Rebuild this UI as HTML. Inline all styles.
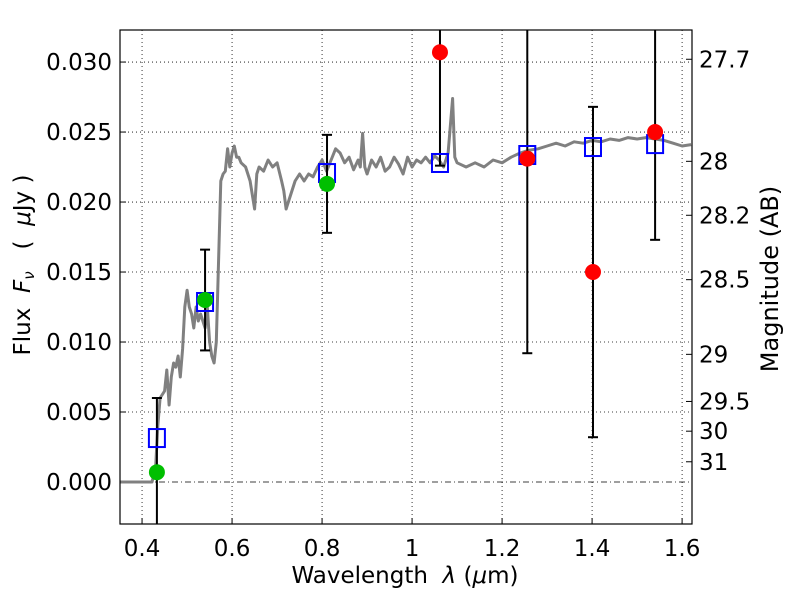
<!DOCTYPE html>
<html><head><meta charset="utf-8"><style>
body{margin:0;background:#fff;}
svg text{font-family:"DejaVu Sans","Liberation Sans",sans-serif;}
</style></head><body>
<svg id="chart" width="800" height="600" xmlns="http://www.w3.org/2000/svg"></svg>
<script>
const specLam=[0.351,0.422,0.43,0.435,0.44,0.45,0.455,0.46,0.465,0.47,0.475,0.48,0.485,0.49,0.495,0.50,0.505,0.51,0.515,0.52,0.525,0.53,0.54,0.545,0.55,0.555,0.56,0.565,0.575,0.58,0.585,0.59,0.595,0.60,0.605,0.61,0.615,0.62,0.63,0.64,0.65,0.655,0.66,0.67,0.68,0.69,0.70,0.71,0.715,0.72,0.73,0.74,0.75,0.76,0.77,0.78,0.79,0.80,0.81,0.82,0.83,0.84,0.85,0.86,0.87,0.88,0.885,0.89,0.895,0.90,0.91,0.92,0.93,0.94,0.95,0.96,0.97,0.98,0.99,1.00,1.01,1.02,1.03,1.04,1.05,1.06,1.07,1.08,1.09,1.095,1.10,1.12,1.14,1.16,1.18,1.20,1.22,1.24,1.26,1.28,1.30,1.32,1.34,1.36,1.38,1.40,1.42,1.44,1.46,1.48,1.50,1.52,1.54,1.56,1.58,1.60,1.62];
const specFlux=[0,0,0.001,0.004,0.006,0.0065,0.008,0.0055,0.0075,0.0085,0.0082,0.009,0.0075,0.0095,0.0125,0.0137,0.0125,0.012,0.011,0.0125,0.0115,0.012,0.011,0.0125,0.010,0.009,0.0085,0.010,0.0215,0.022,0.0222,0.0238,0.0225,0.0235,0.024,0.0232,0.0232,0.0228,0.0225,0.0215,0.0195,0.022,0.0225,0.0222,0.023,0.0225,0.0228,0.0215,0.0208,0.0195,0.0205,0.0215,0.022,0.0215,0.022,0.0218,0.0225,0.023,0.0222,0.023,0.0238,0.0235,0.0228,0.0232,0.0223,0.023,0.0225,0.0249,0.0225,0.022,0.023,0.0225,0.0232,0.0222,0.0225,0.0232,0.0227,0.022,0.0232,0.0225,0.023,0.0228,0.0232,0.0228,0.0233,0.023,0.0225,0.0235,0.0274,0.0232,0.0228,0.0225,0.0228,0.0225,0.023,0.0228,0.0232,0.0235,0.0237,0.0238,0.024,0.0242,0.024,0.0243,0.0242,0.0244,0.0243,0.0245,0.0244,0.0246,0.0245,0.0246,0.0245,0.0244,0.0242,0.024,0.0241];
const modelLam=[0.433,0.54,0.811,1.062,1.256,1.402,1.54];
const modelFlux=[0.00314,0.01286,0.02207,0.02279,0.02336,0.02393,0.02414];
const detLam=[0.433,0.54,0.811];
const detFlux=[0.0007,0.0130,0.0213];
const detErr=[0.0053,0.0036,0.0035];
const ndLam=[1.062,1.256,1.402,1.54];
const ndFlux=[0.0307,0.0231,0.0150,0.0250];
const ndErr=[0.0081,0.0139,0.0118,0.0077];
const xTicks=[0.4,0.6,0.8,1.0,1.2,1.4,1.6];
const xTickLabels=["0.4","0.6","0.8","1","1.2","1.4","1.6"];
const yTicks=[0,0.005,0.01,0.015,0.02,0.025,0.03];
const yTickLabels=["0.000","0.005","0.010","0.015","0.020","0.025","0.030"];
const magTicks=[27.7,28,28.2,28.5,29,29.5,30,31];
const magLabels=["27.7","28","28.2","28.5","29","29.5","30","31"];

const L=120,R=692,T=30,B=524;
const X0=0.351,X1=1.622,Y0=-0.003,Y1=0.03229;
const sx=v=>L+(v-X0)/(X1-X0)*(R-L);
const sy=v=>B-(v-Y0)/(Y1-Y0)*(B-T);
const svg=document.getElementById('chart');
const NS="http://www.w3.org/2000/svg";
function mk(tag,attrs,parent){const e=document.createElementNS(NS,tag);for(const k in attrs)e.setAttribute(k,attrs[k]);(parent||svg).appendChild(e);return e;}
const clip=mk('clipPath',{id:'pc'});mk('rect',{x:L,y:T,width:R-L,height:B-T},clip);

xTicks.forEach((t,i)=>{
  const g=mk('line',{x1:sx(t),x2:sx(t),y1:T,y2:B,stroke:'#000','stroke-width':0.8,'stroke-dasharray':'1,3'});
  
  
  const tk=mk('line',{x1:sx(t),x2:sx(t),y1:B,y2:B-6,stroke:'#000'});
  
  
  const tx=mk('text',{x:sx(t),y:B+32,'font-size':23,'text-anchor':'middle'});tx.textContent=xTickLabels[i];
  
  
});
yTicks.forEach((t,i)=>{
  const g=mk('line',{x1:L,x2:R,y1:sy(t),y2:sy(t),stroke:'#000','stroke-width':0.8,'stroke-dasharray':t===0?'6,3,1,3':'1,3'});
  
  
  const tk=mk('line',{x1:L,x2:L+6,y1:sy(t),y2:sy(t),stroke:'#000'});
  
  
  const tx=mk('text',{x:L-8,y:sy(t)+8,'font-size':23,'text-anchor':'end'});tx.textContent=yTickLabels[i];
  
  
});
magTicks.forEach((m,i)=>{
  const f=Math.pow(10,(23.9-m)/2.5);
  const y=sy(f);
  const tk=mk('line',{x1:R,x2:R-6,y1:y,y2:y,stroke:'#000'});
  
  
  const tx=mk('text',{x:R+7,y:y+8,'font-size':23});tx.textContent=magLabels[i];
  
  
});

let d='';specLam.forEach((l,i)=>{d+=(i?'L':'M')+sx(l).toFixed(1)+','+sy(specFlux[i]).toFixed(1);});
const sp=mk('path',{d:d,fill:'none',stroke:'#808080','stroke-width':3,'stroke-linejoin':'round','clip-path':'url(#pc)'});



function errbar(l,f,e,name){
  const x=sx(l),y1=sy(f+e),y2=sy(f-e);
  const g=mk('g',{'clip-path':'url(#pc)'});
  
  
  mk('line',{x1:x,x2:x,y1:y1,y2:y2,stroke:'#000','stroke-width':2},g);
  mk('line',{x1:x-5,x2:x+5,y1:y1,y2:y1,stroke:'#000','stroke-width':2},g);
  mk('line',{x1:x-5,x2:x+5,y1:y2,y2:y2,stroke:'#000','stroke-width':2},g);
}
detLam.forEach((l,i)=>errbar(l,detFlux[i],detErr[i],'detection-error-bar'));
ndLam.forEach((l,i)=>errbar(l,ndFlux[i],ndErr[i],'upper-limit-error-bar'));
modelLam.forEach((l,i)=>{
  const r=mk('rect',{x:sx(l)-8,y:sy(modelFlux[i])-9,width:16,height:18,fill:'none',stroke:'#0000ff','stroke-width':2});
  
  
});
detLam.forEach((l,i)=>{
  const c=mk('circle',{cx:sx(l),cy:sy(detFlux[i]),r:8,fill:'#00bf00'});
  
  
});
ndLam.forEach((l,i)=>{
  const c=mk('circle',{cx:sx(l),cy:sy(ndFlux[i]),r:8,fill:'#ff0000'});
  
  
});
const fr=mk('rect',{x:L,y:T,width:R-L,height:B-T,fill:'none',stroke:'#000','stroke-width':1.2});



const xl=mk('text',{x:405,y:583,'font-size':23,'text-anchor':'middle','xml:space':'preserve'});
xl.setAttribute('style','white-space:pre');
xl.innerHTML='Wavelength  <tspan font-style="italic">λ</tspan> (<tspan font-style="italic">μ</tspan>m)';


const yl=mk('text',{x:0,y:0,'font-size':23,'text-anchor':'middle',transform:'translate(30,265) rotate(-90)'});
yl.setAttribute('style','white-space:pre');
yl.innerHTML='Flux  <tspan font-style="italic">F</tspan><tspan font-style="italic" font-size="15" dy="4">ν</tspan><tspan dy="-4">   (  </tspan><tspan font-style="italic">μ</tspan>Jy )';


const ml=mk('text',{x:0,y:0,'font-size':24,'text-anchor':'middle',transform:'translate(778,279) rotate(-90)'});
ml.textContent='Magnitude (AB)';


</script>
</body></html>
